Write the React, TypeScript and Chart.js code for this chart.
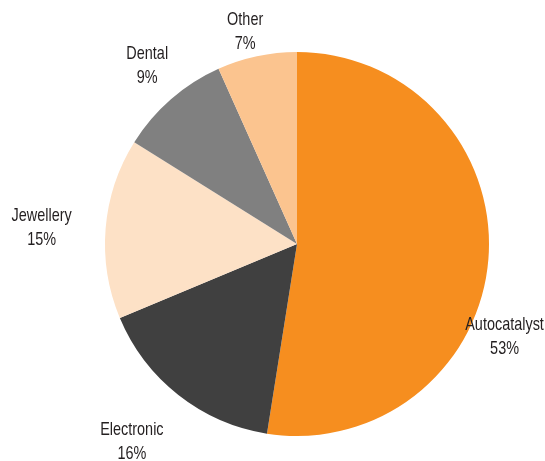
import React, { useEffect, useRef } from "react";
import { Chart, registerables } from "chart.js";

Chart.register(...registerables);

const categories = ["Autocatalyst", "Electronic", "Jewellery", "Dental", "Other"];
const shares = [52.5, 16.2, 15.2, 9.4, 6.7];
const colors = ["#F68E1F", "#404040", "#FDE1C6", "#808080", "#FBC48F"];
// label centre offsets, in units of the pie radius, from the pie centre
const labelOffsets = [
  [1.081, 0.484],
  [-0.86, 1.03],
  [-1.33, -0.085],
  [-0.78, -0.93],
  [-0.27, -1.105],
];

const FONT = '19px "Liberation Sans", Arial, sans-serif';
const CONDENSE = 0.76;

const labelPlugin = {
  id: "outerLabels",
  afterDraw(chart: any) {
    const ctx = chart.ctx;
    const meta = chart.getDatasetMeta(0);
    meta.data.forEach((arc: any, i: number) => {
      const r = arc.outerRadius;
      const x = arc.x + labelOffsets[i][0] * r;
      const y = arc.y + labelOffsets[i][1] * r;
      ctx.save();
      ctx.font = FONT;
      ctx.fillStyle = "#231F20";
      ctx.textAlign = "center";
      ctx.textBaseline = "middle";
      ctx.translate(x, y);
      ctx.scale(CONDENSE, 1);
      ctx.fillText(categories[i], 0, -12);
      ctx.fillText(Math.round(shares[i]) + "%", 0, 12);
      ctx.restore();
    });
  },
};

export default function App() {
  const ref = useRef<HTMLCanvasElement>(null);
  useEffect(() => {
    if (!ref.current) return;
    const chart = new Chart(ref.current, {
      type: "pie",
      data: {
        labels: categories,
        datasets: [
          {
            data: shares,
            backgroundColor: colors,
            borderWidth: 0,
          },
        ],
      },
      options: {
        animation: false,
        responsive: true,
        maintainAspectRatio: false,
        layout: { padding: { top: 52, bottom: 25, left: 105, right: 56 } },
        plugins: { legend: { display: false }, tooltip: { enabled: false } },
      },
      plugins: [labelPlugin],
    });
    return () => chart.destroy();
  }, []);
  return (
    <div style={{ position: "fixed", left: 0, top: 0, width: 545, height: 461, background: "#fff" }}>
      <canvas ref={ref} />
    </div>
  );
}
